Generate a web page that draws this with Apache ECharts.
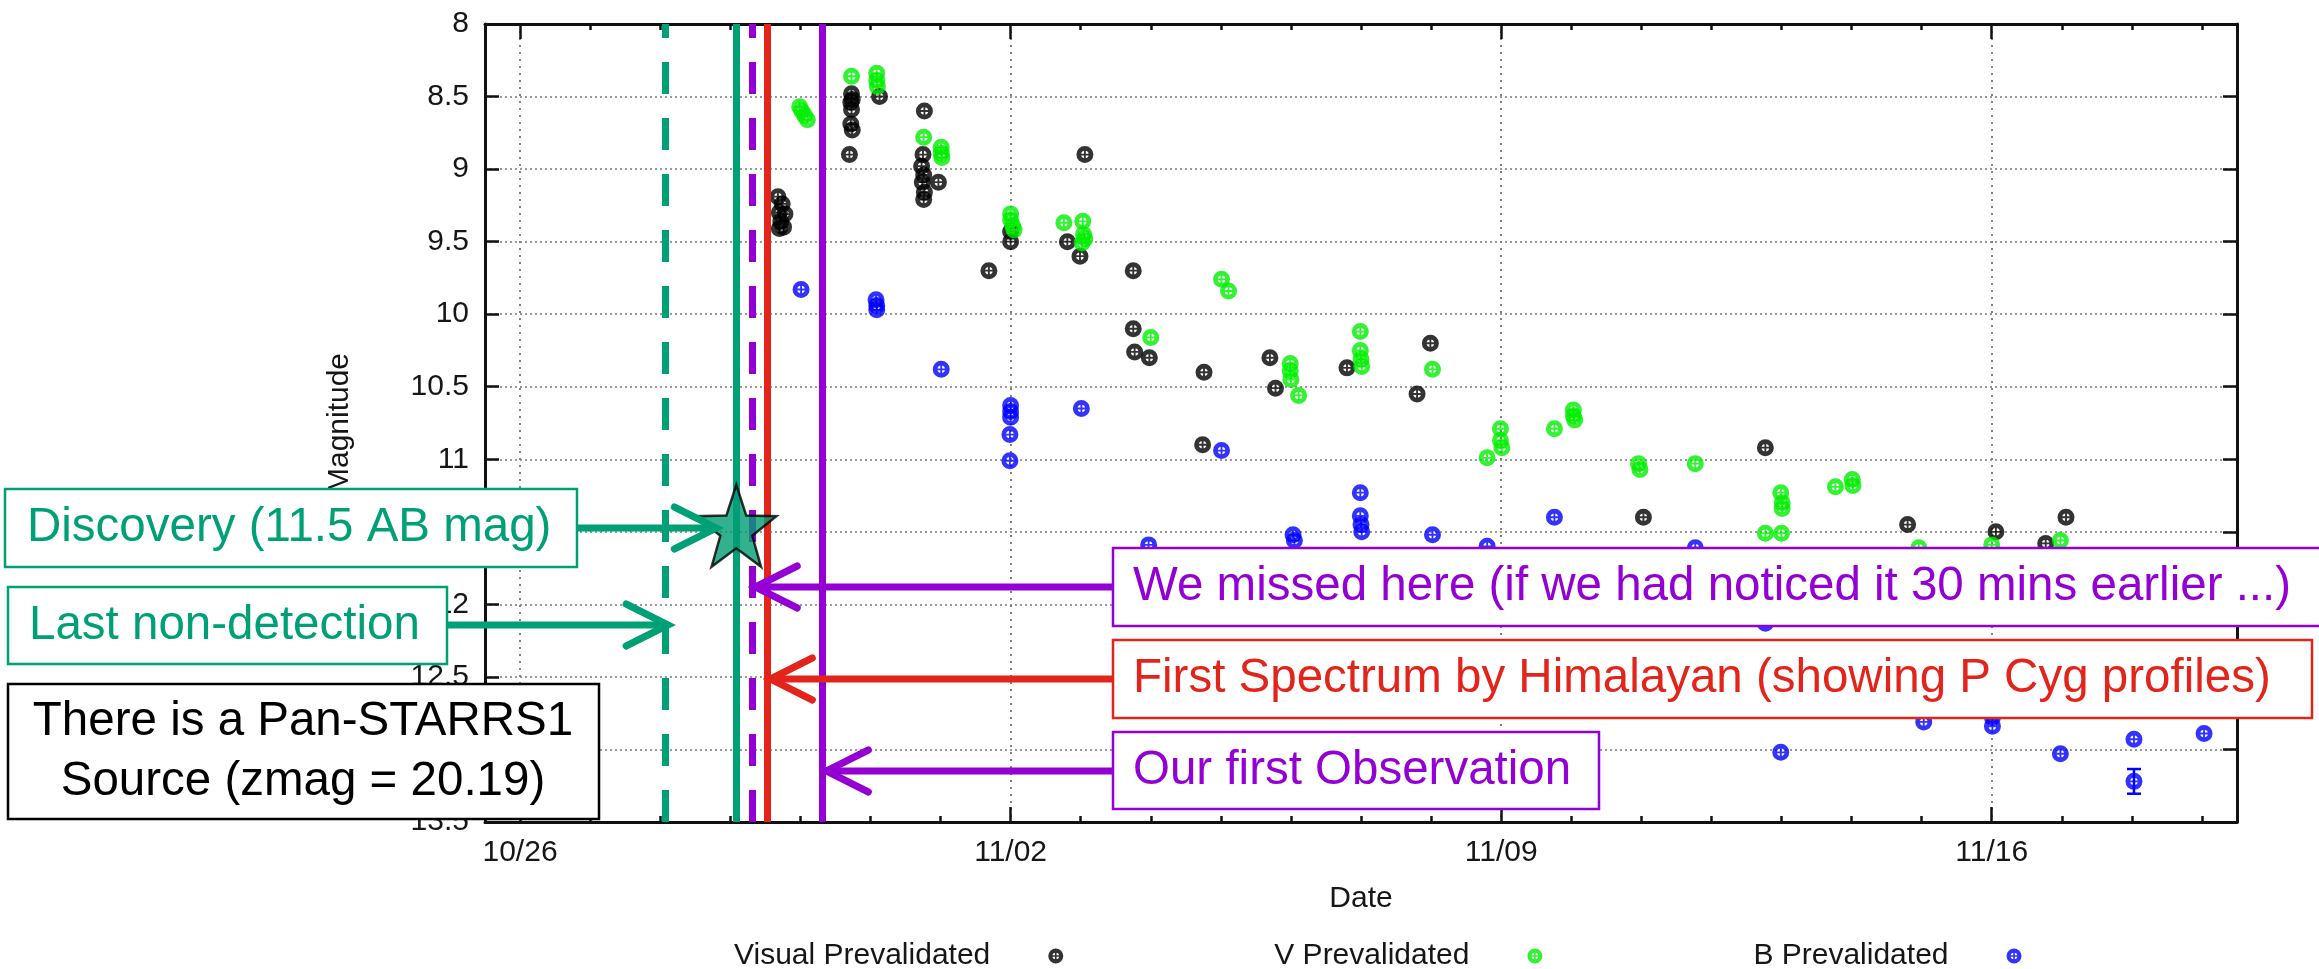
<!DOCTYPE html>
<html>
<head>
<meta charset="utf-8">
<title>Light curve</title>
<script src="https://cdn.jsdelivr.net/npm/echarts@6/dist/echarts.min.js"></script>
<style>
  html, body { margin: 0; padding: 0; background: #fff; }
  #chart { width: 2319px; height: 969px; }
</style>
</head>
<body>
<div id="chart"></div>
<script>
// Time axis: days after 10/26 00:00 UT. Brightness in magnitudes.
const dayTicks = [0, 1, 2, 3, 4, 5, 6, 7, 8, 9, 10, 11, 12, 13, 14, 15, 16, 17, 18, 19, 20, 21, 22, 23, 24];
const dateTickDays = [0, 7, 14, 21];
const dateTickLabels = ['10/26', '11/02', '11/09', '11/16'];

// Visual Prevalidated
const visualDays = [3.68, 3.74, 3.70, 3.78, 3.72, 3.70, 3.76, 4.73, 4.74, 4.72, 4.73, 4.72, 4.74, 4.70, 5.13,
  5.77, 5.75, 5.73, 5.76, 5.74, 5.77, 5.76, 5.97, 6.69, 7.00, 7.00, 7.81, 7.99, 8.06, 8.75, 8.75, 8.77, 8.98,
  9.76, 9.74, 10.70, 10.78, 11.80, 12.99, 12.80, 16.03, 17.77, 19.80, 21.06, 21.77, 22.06];
const visualMags = [9.19, 9.24, 9.30, 9.31, 9.36, 9.41, 9.40, 8.48, 8.52, 8.54, 8.59, 8.69, 8.73, 8.90, 8.50,
  8.60, 8.90, 8.98, 9.04, 9.09, 9.16, 9.21, 9.09, 9.70, 9.43, 9.50, 9.50, 9.60, 8.90, 9.70, 10.10, 10.26, 10.30,
  10.40, 10.90, 10.30, 10.51, 10.37, 10.20, 10.55, 11.40, 10.92, 11.45, 11.50, 11.58, 11.40];

// V Prevalidated
const vDays = [3.99, 4.02, 4.06, 4.10, 4.73, 5.09, 5.09, 5.10, 5.76, 6.01, 6.01, 6.02, 7.00, 7.00, 7.03, 7.05,
  7.76, 8.03, 8.04, 8.06, 8.02, 9.00, 10.01, 10.11, 10.99, 10.99, 11.00, 11.11, 11.99, 11.99, 12.00, 12.01, 13.02,
  13.99, 13.99, 14.01, 13.80, 14.76, 15.03, 15.03, 15.05, 15.96, 15.98, 16.77, 17.99, 18.01, 18.01, 17.77, 18.00,
  18.77, 19.01, 19.02, 19.96, 21.00, 21.98];
const vMags = [8.57, 8.60, 8.63, 8.66, 8.36, 8.34, 8.39, 8.43, 8.78, 8.85, 8.89, 8.92, 9.31, 9.35, 9.39, 9.42,
  9.37, 9.36, 9.45, 9.48, 9.51, 10.16, 9.76, 9.84, 10.34, 10.39, 10.45, 10.56, 10.12, 10.25, 10.31, 10.36, 10.38,
  10.79, 10.87, 10.92, 10.99, 10.79, 10.66, 10.70, 10.73, 11.03, 11.07, 11.03, 11.23, 11.30, 11.34, 11.51, 11.51,
  11.19, 11.14, 11.18, 11.61, 11.59, 11.56];

// B Prevalidated
const bDays = [4.01, 5.08, 5.09, 5.09, 6.01, 7.00, 7.00, 7.00, 6.99, 6.99, 8.01, 8.97, 10.01, 11.03, 11.05,
  11.99, 11.99, 12.00, 12.01, 13.02, 13.80, 14.76, 16.77, 17.77, 17.99, 20.03, 21.01, 21.01, 21.98, 23.03, 23.03, 24.03];
const bMags = [9.83, 9.90, 9.94, 9.97, 10.38, 10.63, 10.67, 10.71, 10.83, 11.01, 10.65, 11.59, 10.94, 11.52, 11.56,
  11.23, 11.39, 11.45, 11.50, 11.52, 11.60, 11.40, 11.61, 12.13, 13.02, 12.81, 12.78, 12.84, 13.03, 12.93, 13.22, 12.89];
// [day, mag, error] for the one B point whose error bar shows beyond its marker
const bErrorBars = [[23.03, 13.22, 0.085]];

// Event times (days after 10/26 00:00 UT)
const eventNames = ['Last non-detection', 'Discovery', 'Missed', 'First spectrum', 'First observation'];
const eventDays = [2.07, 3.086, 3.314, 3.529, 4.314];
const discoveryMag = 11.5;

const GREEN = '#00a077';
const PURPLE = '#9400d3';
const RED = '#e3241b';
const FONT = '"Liberation Sans", Arial, Helvetica, sans-serif';
const AXIS = '#111';

const eventStyles = [
  { color: GREEN, type: [32, 24] },
  { color: GREEN, type: 'solid' },
  { color: PURPLE, type: [32, 24] },
  { color: RED, type: 'solid' },
  { color: PURPLE, type: 'solid' }
];

function pairs(xs, ys) { return xs.map((x, i) => [x, ys[i]]); }

// heavy ring marker with a cross through its small hole
const MARKER = 'path://M10,0A10,10,0,1,1,10,20A10,10,0,1,1,10,0ZM10,5.6A4.4,4.4,0,1,0,10,14.4A4.4,4.4,0,1,0,10,5.6ZM8.9,5h2.2v10h-2.2ZM5,8.9h10v2.2h-10Z';

function starPath() {
  const pts = [];
  for (let i = 0; i < 10; i++) {
    const r = i % 2 === 0 ? 50 : 20;
    const a = -Math.PI / 2 + i * Math.PI / 5;
    pts.push((50 + r * Math.cos(a)).toFixed(2) + ',' + (50 + r * Math.sin(a)).toFixed(2));
  }
  return 'path://M' + pts.join('L') + 'Z';
}

const xBase = { type: 'value', min: -0.5, max: 24.5, gridIndex: 0 };
const yBase = { type: 'value', inverse: true, min: 8, max: 13.5, interval: 0.5, gridIndex: 0 };
const axisLineStyle = { show: true, onZero: false, lineStyle: { color: AXIS, width: 3 } };
const tickLine = { color: AXIS, width: 2.5 };
const LABEL_COLOR = '#161616';

const chart = echarts.init(document.getElementById('chart'), null, { renderer: 'canvas' });

chart.setOption({
  animation: false,
  backgroundColor: '#fff',
  textStyle: { fontFamily: FONT },
  grid: { left: 485, right: 82, top: 24, bottom: 147, outerBoundsMode: 'none', containLabel: false },
  legend: {
    data: ['Visual Prevalidated', 'V Prevalidated', 'B Prevalidated'],
    left: 729,
    top: 936,
    orient: 'horizontal',
    align: 'right',
    itemGap: 211,
    itemWidth: 15,
    itemHeight: 15,
    selectedMode: false,
    textStyle: { fontSize: 30, color: LABEL_COLOR, fontFamily: FONT, padding: [0, 53, 0, 0] }
  },
  xAxis: [
    Object.assign({}, xBase, {
      position: 'bottom',
      axisLine: axisLineStyle,
      axisTick: { show: true, inside: true, length: 6, customValues: dayTicks, lineStyle: tickLine },
      axisLabel: {
        customValues: dateTickDays,
        formatter: v => dateTickLabels[dateTickDays.indexOf(Math.round(v))] || '',
        margin: 16, fontSize: 30, color: LABEL_COLOR, fontFamily: FONT
      },
      splitLine: { show: false },
      name: 'Date', nameLocation: 'middle', nameGap: 62,
      nameTextStyle: { fontSize: 30, color: LABEL_COLOR, fontFamily: FONT }
    }),
    Object.assign({}, xBase, {
      position: 'bottom',
      axisLine: { show: false, onZero: false },
      axisTick: { show: true, inside: true, length: 15, customValues: dateTickDays, lineStyle: tickLine },
      axisLabel: { show: false },
      splitLine: { show: true, lineStyle: { color: '#808080', width: 2, type: [2, 5] } }
    }),
    Object.assign({}, xBase, {
      position: 'top',
      axisLine: axisLineStyle,
      axisTick: { show: true, inside: true, length: 6, customValues: dayTicks, lineStyle: tickLine },
      axisLabel: { show: false },
      splitLine: { show: false }
    }),
    Object.assign({}, xBase, {
      position: 'top',
      axisLine: { show: false, onZero: false },
      axisTick: { show: true, inside: true, length: 15, customValues: dateTickDays, lineStyle: tickLine },
      axisLabel: { show: false },
      splitLine: { show: false }
    })
  ],
  yAxis: [
    Object.assign({}, yBase, {
      position: 'left',
      axisLine: axisLineStyle,
      axisTick: { show: true, inside: true, length: 14, lineStyle: tickLine },
      axisLabel: { margin: 16, fontSize: 30, color: LABEL_COLOR, fontFamily: FONT },
      splitLine: { show: true, lineStyle: { color: '#999', width: 2, type: [2, 3] } },
      name: 'Magnitude', nameLocation: 'middle', nameGap: 130,
      nameTextStyle: { fontSize: 30, color: LABEL_COLOR, fontFamily: FONT }
    }),
    Object.assign({}, yBase, {
      position: 'right',
      axisLine: axisLineStyle,
      axisTick: { show: true, inside: true, length: 14, lineStyle: tickLine },
      axisLabel: { show: false },
      splitLine: { show: false }
    })
  ],
  series: [
    {
      name: 'Visual Prevalidated', type: 'scatter', xAxisIndex: 0, yAxisIndex: 0,
      data: pairs(visualDays, visualMags),
      symbol: MARKER, symbolSize: 17, itemStyle: { color: '#000' }, z: 3,
      markLine: {
        silent: true, symbol: ['none', 'none'], label: { show: false },
        data: eventDays.map((d, i) => [
          { name: eventNames[i], coord: [d, 13.5], lineStyle: { color: eventStyles[i].color, width: 7, type: eventStyles[i].type, cap: 'butt' } },
          { coord: [d, 8] }
        ])
      }
    },
    {
      name: 'V Prevalidated', type: 'scatter', xAxisIndex: 0, yAxisIndex: 0,
      data: pairs(vDays, vMags),
      symbol: MARKER, symbolSize: 17, itemStyle: { color: '#00ee00' }, z: 3
    },
    {
      name: 'B Prevalidated', type: 'scatter', xAxisIndex: 0, yAxisIndex: 0,
      data: pairs(bDays, bMags),
      symbol: MARKER, symbolSize: 17, itemStyle: { color: '#0000ff' }, z: 3
    },
    {
      name: 'B errors', type: 'custom', xAxisIndex: 0, yAxisIndex: 0, z: 3,
      data: bErrorBars,
      renderItem: (params, api) => {
        const top = api.coord([api.value(0), api.value(1) - api.value(2)]);
        const bot = api.coord([api.value(0), api.value(1) + api.value(2)]);
        const st = { stroke: '#0000ff', lineWidth: 2.5 };
        return {
          type: 'group',
          children: [
            { type: 'line', shape: { x1: top[0], y1: top[1], x2: bot[0], y2: bot[1] }, style: st },
            { type: 'line', shape: { x1: top[0] - 7, y1: top[1], x2: top[0] + 7, y2: top[1] }, style: st },
            { type: 'line', shape: { x1: bot[0] - 7, y1: bot[1], x2: bot[0] + 7, y2: bot[1] }, style: st }
          ]
        };
      }
    },
    {
      name: 'Discovery', type: 'scatter', xAxisIndex: 0, yAxisIndex: 0,
      data: [[eventDays[1], discoveryMag]],
      symbol: starPath(), symbolSize: [80, 82], symbolOffset: [0, -6],
      itemStyle: { color: '#009e73', borderColor: '#000', borderWidth: 2.5 }, z: 20
    }
  ]
});

// Annotation boxes and arrows pointing at the event lines
const xPix = d => chart.convertToPixel({ xAxisIndex: 0 }, d);
const BOX_FONT = '47.5px ' + FONT;

function box(x, y, w, h, color, lines, textX, centered) {
  const els = [{ type: 'rect', z: 60, shape: { x: x, y: y, width: w, height: h }, style: { fill: '#fff', stroke: color, lineWidth: 2.5 } }];
  const lh = 60;
  const y0 = y + h / 2 - (lines.length - 1) * lh / 2;
  lines.forEach((t, i) => {
    els.push({
      type: 'text', z: 61, x: textX, y: y0 + i * lh,
      style: { text: t, font: BOX_FONT, fill: color, align: centered ? 'center' : 'left', verticalAlign: 'middle' }
    });
  });
  return els;
}

function arrow(fromX, tipX, y, color) {
  const dir = tipX > fromX ? 1 : -1;
  return [
    { type: 'polyline', z: 55, shape: { points: [[fromX, y], [tipX, y]] }, style: { stroke: color, lineWidth: 7, fill: null } },
    { type: 'polyline', z: 55, shape: { points: [[tipX - dir * 42, y - 21], [tipX, y], [tipX - dir * 42, y + 21]] },
      style: { stroke: color, lineWidth: 7, fill: null, lineCap: 'round', lineJoin: 'miter' } }
  ];
}

const graphics = [].concat(
  arrow(577, xPix(eventDays[1]) - 20, 528, GREEN),
  arrow(447, xPix(eventDays[0]) + 3, 625, GREEN),
  arrow(1113, xPix(eventDays[2]) + 3, 587, PURPLE),
  arrow(1113, xPix(eventDays[3]) + 3, 679, RED),
  arrow(1113, xPix(eventDays[4]) + 4, 771, PURPLE),
  box(5, 489, 572, 78, GREEN, ['Discovery (11.5 AB mag)'], 27, false),
  box(8, 587, 439, 77, GREEN, ['Last non-detection'], 29, false),
  box(8, 684, 591, 135, '#000', ['There is a Pan-STARRS1', 'Source (zmag = 20.19)'], 303, true),
  box(1113, 548, 1240, 78, PURPLE, ['We missed here (if we had noticed it 30 mins earlier ...)'], 1133, false),
  box(1113, 640, 1199, 78, RED, ['First Spectrum by Himalayan (showing P Cyg profiles)'], 1133, false),
  box(1113, 732, 486, 77, PURPLE, ['Our first Observation'], 1133, false)
);

chart.setOption({ graphic: graphics });
</script>
</body>
</html>
